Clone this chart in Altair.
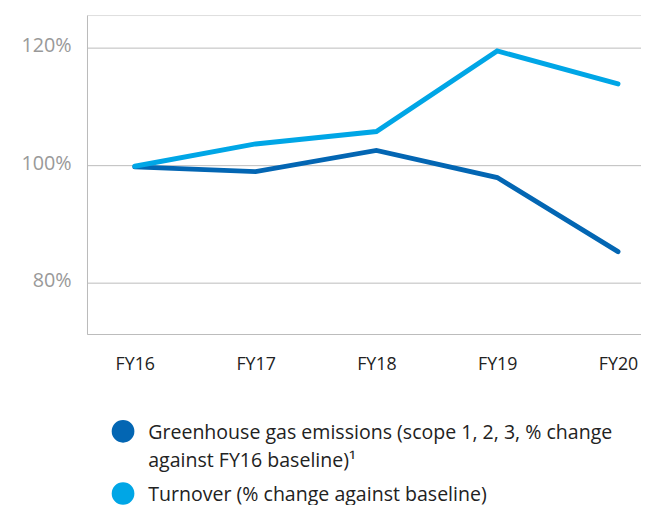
import altair as alt
import pandas as pd

years = ["FY16", "FY17", "FY18", "FY19", "FY20"]
emissions = [99.7, 98.9, 102.5, 97.9, 85.3]
turnover = [99.8, 103.6, 105.7, 119.4, 113.8]
series_names = [
    "Greenhouse gas emissions (scope 1, 2, 3, % change against FY16 baseline)¹",
    "Turnover (% change against baseline)",
]
series_colors = ["#0366B3", "#00A6E6"]
y_ticks = [80, 100, 120]

rows = []
for i, y in enumerate(years):
    rows.append({"year": y, "series": series_names[0], "value": emissions[i], "order": 0})
    rows.append({"year": y, "series": series_names[1], "value": turnover[i], "order": 1})
df = pd.DataFrame(rows)

FONT = "Open Sans"

label_expr = (
    "datum.label == '" + series_names[0] + "' ? "
    "['Greenhouse gas emissions (scope 1, 2, 3, % change', 'against FY16 baseline)¹'] : datum.label"
)

chart = alt.Chart(df).mark_line(strokeWidth=5, strokeCap="round", strokeJoin="miter").encode(
    x=alt.X(
        "year:N",
        sort=years,
        scale=alt.Scale(type="point", padding=0.293, align=0.675),
        axis=alt.Axis(
            title=None,
            labelAngle=0,
            labelFont=FONT,
            labelFontSize=18,
            labelColor="#222222",
            labelPadding=30,
            ticks=False,
            domainColor="#BBBBBB",
            domainWidth=1,
            grid=False,
        ),
    ),
    y=alt.Y(
        "value:Q",
        scale=alt.Scale(domain=[71.3, 125.5], nice=False, zero=False),
        axis=alt.Axis(
            title=None,
            values=y_ticks,
            labelExpr="datum.value + '%'",
            labelFont=FONT,
            labelFontSize=20,
            labelColor="#999999",
            labelPadding=16,
            labelOffset=6,
            ticks=False,
            domainColor="#BBBBBB",
            domainWidth=1,
            gridColor="#BBBBBB",
            gridWidth=1,
        ),
    ),
    color=alt.Color(
        "series:N",
        scale=alt.Scale(domain=series_names, range=series_colors),
        legend=alt.Legend(
            title=None,
            orient="none",
            legendX=25,
            legendY=410,
            direction="vertical",
            symbolType="circle",
            symbolSize=132,
            symbolStrokeWidth=11.5,
            symbolOpacity=1,
            labelFont=FONT,
            labelFontSize=19.8,
            labelColor="#222222",
            labelOffset=14,
            labelLimit=600,
            labelExpr=label_expr,
            labelBaseline="top",
            rowPadding=-7,
            padding=0,
        ),
    ),
    order="order:Q",
).properties(
    width=561,
    height=323,
    padding={"left": 80, "top": 4, "right": 0, "bottom": 170},
    autosize=alt.AutoSizeParams(type="none"),
).configure_view(stroke=None).configure(
    style={"guide-label": {"lineHeight": 28.5, "dy": -8}}
)

chart.save("out.html", embed_options={"renderer": "svg", "actions": False})
